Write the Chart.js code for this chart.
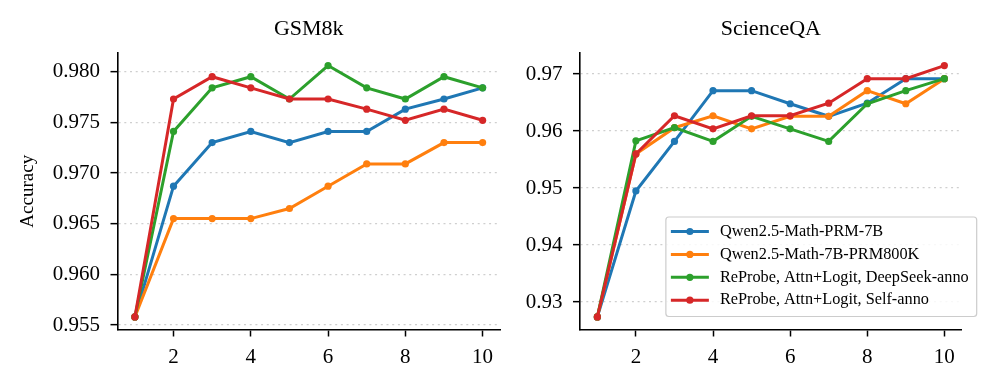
<!DOCTYPE html>
<html>
<head>
<meta charset="utf-8">
<script src="https://cdn.jsdelivr.net/npm/chart.js@4.4.1/dist/chart.umd.min.js"></script>
<style>
  body { margin: 0; background: #fff; }
  #wrap { position: relative; width: 996px; height: 387px; }
  canvas { position: absolute; top: 0; }
</style>
</head>
<body>
<div id="wrap">
  <canvas id="gsmChart" width="520" height="387" style="left:0"></canvas>
  <canvas id="sqaChart" width="476" height="387" style="left:520px"></canvas>
</div>
<script>
// data
var steps = [1, 2, 3, 4, 5, 6, 7, 8, 9, 10];
var xTicks = [2, 4, 6, 8, 10];
var seriesNames = [
  "Qwen2.5-Math-PRM-7B",
  "Qwen2.5-Math-7B-PRM800K",
  "ReProbe, Attn+Logit, DeepSeek-anno",
  "ReProbe, Attn+Logit, Self-anno"
];
var seriesColors = ["#1f77b4", "#ff7f0e", "#2ca02c", "#d62728"];

var gsmQwenPRM  = [0.9558, 0.9687, 0.9730, 0.9741, 0.9730, 0.9741, 0.9741, 0.9763, 0.9773, 0.9784];
var gsmPRM800K  = [0.9558, 0.9655, 0.9655, 0.9655, 0.9665, 0.9687, 0.9709, 0.9709, 0.9730, 0.9730];
var gsmDeepSeek = [0.9558, 0.9741, 0.9784, 0.9795, 0.9773, 0.9806, 0.9784, 0.9773, 0.9795, 0.9784];
var gsmSelf     = [0.9558, 0.9773, 0.9795, 0.9784, 0.9773, 0.9773, 0.9763, 0.9752, 0.9763, 0.9752];
var gsmTicks = [0.955, 0.960, 0.965, 0.970, 0.975, 0.980];

var sqaQwenPRM  = [0.9274, 0.9495, 0.9582, 0.9671, 0.9671, 0.9648, 0.9626, 0.9649, 0.9692, 0.9692];
var sqaPRM800K  = [0.9274, 0.9560, 0.9606, 0.9627, 0.9604, 0.9626, 0.9626, 0.9671, 0.9648, 0.9692];
var sqaDeepSeek = [0.9274, 0.9583, 0.9606, 0.9582, 0.9626, 0.9604, 0.9582, 0.9648, 0.9671, 0.9692];
var sqaSelf     = [0.9274, 0.9560, 0.9627, 0.9604, 0.9627, 0.9627, 0.9649, 0.9692, 0.9692, 0.9715];
var sqaTicks = [0.93, 0.94, 0.95, 0.96, 0.97];

var serif = '"Liberation Serif", "Times New Roman", serif';
Chart.defaults.color = "#000";
Chart.defaults.font.family = serif;

// panel title centred over the plot area (not the canvas)
var areaTitle = {
  id: "areaTitle",
  afterDraw: function(chart, args, opts) {
    var ctx = chart.ctx, area = chart.chartArea;
    ctx.save();
    ctx.font = "22px " + serif;
    ctx.fillStyle = "#000";
    ctx.textAlign = "center";
    ctx.textBaseline = "alphabetic";
    ctx.fillText(opts.text, (area.left + area.right) / 2, 35);
    ctx.restore();
  }
};

// legend drawn inside the plot, lower right
var insideLegend = {
  id: "insideLegend",
  afterDatasetsDraw: function(chart, args, opts) {
    if (!opts.show) return;
    var ctx = chart.ctx, area = chart.chartArea;
    var sets = chart.data.datasets;
    ctx.save();
    ctx.font = "16.3px " + serif;
    var maxW = 0;
    sets.forEach(function(d) { maxW = Math.max(maxW, ctx.measureText(d.label).width); });
    var w = 5 + 38 + 11 + maxW + 8, h = 99.5;
    var x0 = area.right + 15 - w, y0 = area.bottom - 13 - h;
    ctx.beginPath();
    ctx.roundRect(x0, y0, w, h, 3);
    ctx.fillStyle = "rgba(255,255,255,0.85)";
    ctx.fill();
    ctx.strokeStyle = "#cccccc";
    ctx.lineWidth = 1.2;
    ctx.stroke();
    sets.forEach(function(d, i) {
      var cy = y0 + 14.5 + i * 22.9;
      ctx.strokeStyle = d.borderColor;
      ctx.lineWidth = 3;
      ctx.beginPath();
      ctx.moveTo(x0 + 5, cy);
      ctx.lineTo(x0 + 43, cy);
      ctx.stroke();
      ctx.fillStyle = d.borderColor;
      ctx.beginPath();
      ctx.arc(x0 + 24, cy, 3.6, 0, Math.PI * 2);
      ctx.fill();
      ctx.fillStyle = "#000";
      ctx.textBaseline = "middle";
      ctx.fillText(d.label, x0 + 54, cy);
    });
    ctx.restore();
  }
};

function makeChart(id, title, series, yTicks, digits, cfg) {
  var all = [].concat.apply([], series);
  var lo = Math.min.apply(null, all), hi = Math.max.apply(null, all);
  var m = (hi - lo) * 0.05;
  var datasets = series.map(function(vals, i) {
    return {
      label: seriesNames[i],
      data: steps.map(function(s, j) { return {x: s, y: vals[j]}; }),
      borderColor: seriesColors[i],
      backgroundColor: seriesColors[i],
      borderWidth: 3,
      pointRadius: 3.6,
      pointHoverRadius: 3.6,
      pointBorderWidth: 0,
      tension: 0,
      order: 3 - i
    };
  });
  return new Chart(document.getElementById(id), {
    type: "line",
    data: {datasets: datasets},
    plugins: [insideLegend, areaTitle],
    options: {
      responsive: false,
      animation: false,
      layout: {padding: {left: 0, right: cfg.padRight, top: 53, bottom: 0}},
      plugins: {
        legend: {display: false},
        tooltip: {enabled: false},
        title: {display: false},
        areaTitle: {text: title},
        insideLegend: {show: cfg.legend}
      },
      scales: {
        x: {
          type: "linear",
          min: 0.55, max: 10.45,
          afterBuildTicks: function(s) { s.ticks = xTicks.map(function(v) { return {value: v}; }); },
          afterFit: function(s) { s.height = 57.5; },
          ticks: {font: {size: 21}, padding: 8, maxRotation: 0, callback: function(v) { return String(v); }},
          grid: {drawOnChartArea: false, drawTicks: true, tickLength: 7, tickColor: "#000", tickWidth: 1.5},
          border: {display: true, color: "#000", width: 1.6}
        },
        y: {
          type: "linear",
          min: lo - m, max: hi + m,
          afterBuildTicks: function(s) { s.ticks = yTicks.map(function(v) { return {value: v}; }); },
          afterFit: function(s) { s.width = cfg.yWidth; },
          ticks: {font: {size: 21}, padding: 10.5, callback: function(v) { return v.toFixed(digits); }},
          title: {
            display: cfg.yTitle, text: "Accuracy", color: "#000",
            font: {size: 19}, padding: {top: 17, bottom: 0}
          },
          grid: {
            color: "#cfcfcf", lineWidth: 1.3, drawTicks: true, tickLength: 7,
            tickColor: "#000", tickWidth: 1.5, tickBorderDash: []
          },
          border: {display: true, color: "#000", width: 1.6, dash: [2, 3.7]}
        }
      }
    }
  });
}

makeChart("gsmChart", "GSM8k", [gsmQwenPRM, gsmPRM800K, gsmDeepSeek, gsmSelf], gsmTicks, 3,
  {yWidth: 117.5, padRight: 20, yTitle: true, legend: false});
makeChart("sqaChart", "ScienceQA", [sqaQwenPRM, sqaPRM800K, sqaDeepSeek, sqaSelf], sqaTicks, 2,
  {yWidth: 60, padRight: 34.3, yTitle: false, legend: true});
</script>
</body>
</html>
